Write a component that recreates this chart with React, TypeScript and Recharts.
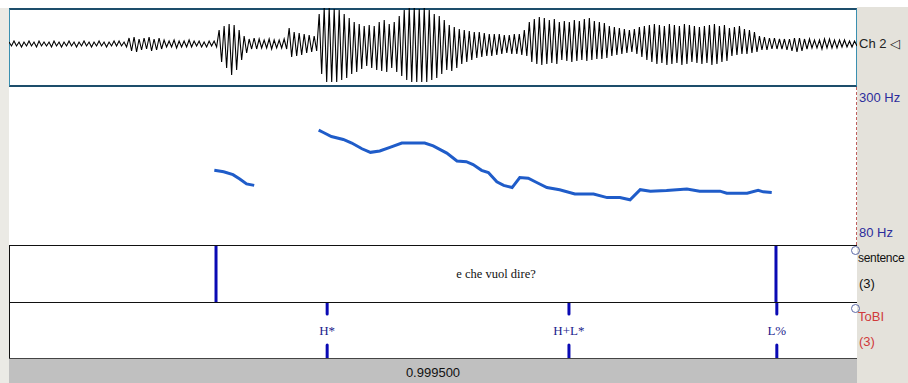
import React from 'react';
import {
  LineChart,
  Line,
  XAxis,
  YAxis,
  ComposedChart,
  ReferenceArea,
  Scatter,
} from 'recharts';

// time span of the window (s)
const DURATION = 0.9995;

// waveform envelope, one bucket per ~5px column: peak above / below the zero line
const waveHi = [
  2, 3, 2, 2, 3, 2, 3, 2, 2, 3, 2, 2, 3, 2, 2, 3, 2, 2, 3, 2, 2, 3, 3, 2,
  6, 7, 5, 6, 7, 5, 6,
  4, 3, 4, 3, 3, 4, 3, 3, 2, 3, 3,
  14, 18, 20, 19, 14, 8,
  5, 6, 5, 4, 5, 4, 4, 5,
  16, 12, 11, 10, 9, 8,
  30, 36, 36, 35, 34, 30, 26,
  22, 20, 18, 19, 18, 22, 24, 20, 22, 28,
  34, 36, 36, 35, 36, 34, 30, 28, 24,
  19, 17, 15, 14, 13, 12, 12, 11, 10, 10, 10,
  9, 9, 10, 10, 14,
  22, 25, 27, 26, 24, 25,
  22, 23, 22, 24, 23, 25, 26, 23, 22, 21,
  18, 17, 16, 15, 14, 15, 17,
  18, 19, 20, 19, 18, 20, 19, 18, 20, 19, 18,
  17, 18, 19, 20, 18, 19,
  16, 17, 18, 15, 14, 12,
  8, 7, 6, 6, 5, 5, 5, 6, 6, 5, 5, 4, 4, 5, 5, 4, 4, 4, 3, 3,
];
const waveLo = [
  2, 2, 3, 2, 2, 3, 2, 2, 3, 2, 3, 2, 2, 3, 2, 2, 3, 2, 2, 3, 2, 2, 2, 3,
  7, 8, 6, 5, 7, 6, 5,
  3, 3, 4, 3, 3, 3, 2, 3, 3, 2, 3,
  18, 24, 31, 26, 16, 9,
  5, 5, 4, 4, 5, 4, 4, 5,
  13, 12, 11, 9, 8, 7,
  30, 38, 38, 38, 36, 34, 30,
  28, 25, 22, 24, 26, 27, 28, 24, 28, 32,
  36, 38, 38, 38, 38, 36, 34, 30, 26,
  27, 24, 20, 18, 16, 14, 13, 12, 12, 11, 10,
  9, 10, 10, 11, 12,
  18, 20, 21, 20, 19, 20,
  16, 17, 18, 17, 16, 17, 16, 15, 15, 14,
  12, 11, 10, 9, 8, 10, 13,
  16, 18, 20, 19, 21, 20, 19, 21, 20, 18, 19,
  20, 19, 21, 20, 18, 17,
  12, 11, 10, 10, 9, 8,
  6, 6, 5, 5, 5, 6, 7, 8, 7, 5, 4, 4, 5, 4, 4, 4, 3, 3, 3, 2,
];

// pitch track (Hz), two voiced stretches
const pitchTimes1 = [0.242, 0.253, 0.264, 0.272, 0.28, 0.289];
const pitchHz1 = [184, 182, 178, 172, 165, 163];
const pitchTimes2 = [
  0.365, 0.37, 0.38, 0.394, 0.404, 0.416, 0.426, 0.437, 0.449, 0.463,
  0.477, 0.49, 0.5, 0.516, 0.528, 0.539, 0.547, 0.557, 0.565, 0.575,
  0.583, 0.593, 0.602, 0.612, 0.622, 0.634, 0.649, 0.667, 0.689, 0.705,
  0.72, 0.732, 0.744, 0.756, 0.775, 0.799, 0.814, 0.838, 0.846, 0.87,
  0.883, 0.889, 0.899,
];
const pitchHz2 = [
  240, 237, 231, 227, 222, 214, 209, 211, 216, 222,
  222, 222, 218, 208, 197, 196, 192, 184, 181, 168,
  163, 160, 174, 173, 167, 160, 157, 151, 151, 146,
  146, 143, 157, 155, 156, 158, 155, 155, 152, 152,
  156, 154, 153,
];

// tiers
const sentenceBounds = [0.244, 0.904];
const sentenceText = 'e che vuol dire?';
const tobiTimes = [0.375, 0.66, 0.905];
const tobiLabels = ['H*', 'H+L*', 'L%'];

const waveData = waveHi.flatMap((h, i) => [
  { k: 2 * i, v: h },
  { k: 2 * i + 1, v: -waveLo[i] },
]);
const seg1 = pitchTimes1.map((t, i) => ({ t, hz: pitchHz1[i] }));
const seg2 = pitchTimes2.map((t, i) => ({ t, hz: pitchHz2[i] }));
const boundData = sentenceBounds.map((t) => ({ t, y: 0.5 }));
const tobiData = tobiTimes.map((t, i) => ({ t, y: 0.5, label: tobiLabels[i] }));

const PLOT_W = 848;
const MARK = '#0a0ab4';
const SANS = '"Liberation Sans", Arial, sans-serif';
const SERIF = '"Liberation Serif", "Times New Roman", serif';

const Boundary = (props: any) => {
  const { cx } = props;
  return <line x1={cx} x2={cx} y1={0} y2={57} stroke={MARK} strokeWidth={3} />;
};

const TobiMark = (props: any) => {
  const { cx, cy, payload } = props;
  return (
    <g>
      <line x1={cx} x2={cx} y1={cy - 27} y2={cy - 16} stroke={MARK} strokeWidth={3} strokeLinecap="round" />
      <text x={cx} y={cy + 5} textAnchor="middle" fontFamily={SERIF} fontSize={13} fill="#1c1c8c">
        {payload.label}
      </text>
      <line x1={cx} x2={cx} y1={cy + 15} y2={cy + 28} stroke={MARK} strokeWidth={3} strokeLinecap="round" />
    </g>
  );
};

const abs = (left: number, top: number, width: number, height: number): React.CSSProperties => ({
  position: 'absolute',
  left,
  top,
  width,
  height,
});

const App = () => {
  return (
    <div style={{ ...abs(0, 0, 908, 383), background: '#fff', overflow: 'hidden', fontFamily: SANS }}>
      {/* frame backgrounds */}
      <div style={{ ...abs(0, 8, 9, 375), background: '#ebeae5' }} />
      <div style={{ ...abs(857, 7, 51, 376), background: '#e4e2db' }} />

      {/* waveform */}
      <div style={{ ...abs(9, 8, PLOT_W, 79), boxSizing: 'border-box', borderTop: '2px solid #1d4d6b', borderBottom: '2px solid #1d4d6b', borderLeft: '1px solid #3a8fb0', borderRight: '1px solid #3a8fb0' }} />
      <div style={abs(9, 8, PLOT_W, 79)}>
        <LineChart width={PLOT_W} height={79} data={waveData} margin={{ top: 0, right: 0, bottom: 0, left: 0 }}>
          <XAxis dataKey="k" type="number" domain={[0, 339]} hide />
          <YAxis type="number" domain={[-43, 36]} hide allowDataOverflow />
          <Line dataKey="v" stroke="#000" strokeWidth={1.1} dot={false} isAnimationActive={false} />
        </LineChart>
      </div>

      {/* pitch */}
      <div style={abs(9, 87, PLOT_W, 158)}>
        <LineChart width={PLOT_W} height={158} margin={{ top: 0, right: 0, bottom: 0, left: 0 }}>
          <XAxis dataKey="t" type="number" domain={[0, DURATION]} hide />
          <YAxis type="number" domain={[80, 300]} hide />
          <Line data={seg1} dataKey="hz" stroke="#1f5cc9" strokeWidth={3} dot={false} isAnimationActive={false} />
          <Line data={seg2} dataKey="hz" stroke="#1f5cc9" strokeWidth={3} dot={false} isAnimationActive={false} />
        </LineChart>
      </div>
      <div style={{ ...abs(856, 87, 0, 158), borderLeft: '1px dashed #c06060' }} />

      {/* sentence tier */}
      <div style={abs(9, 245, PLOT_W, 57)}>
        <ComposedChart width={PLOT_W} height={57} data={boundData} margin={{ top: 0, right: 0, bottom: 0, left: 0 }}>
          <XAxis dataKey="t" type="number" domain={[0, DURATION]} hide />
          <YAxis dataKey="y" type="number" domain={[0, 1]} hide />
          <ReferenceArea
            x1={sentenceBounds[0]}
            x2={sentenceBounds[1]}
            y1={0}
            y2={1}
            fill="none"
            stroke="none"
            label={{ value: sentenceText, position: 'center', fontFamily: SERIF, fontSize: 12.5, fill: '#111' }}
          />
          <Scatter data={boundData} dataKey="y" shape={<Boundary />} isAnimationActive={false} />
        </ComposedChart>
      </div>

      {/* ToBI tier */}
      <div style={abs(9, 302, PLOT_W, 56)}>
        <ComposedChart width={PLOT_W} height={56} data={tobiData} margin={{ top: 0, right: 0, bottom: 0, left: 0 }}>
          <XAxis dataKey="t" type="number" domain={[0, DURATION]} hide />
          <YAxis dataKey="y" type="number" domain={[0, 1]} hide />
          <Scatter data={tobiData} dataKey="y" shape={<TobiMark />} isAnimationActive={false} />
        </ComposedChart>
      </div>

      {/* tier rules */}
      <div style={{ ...abs(9, 245, PLOT_W, 0), borderTop: '1px solid #111' }} />
      <div style={{ ...abs(9, 302, PLOT_W, 0), borderTop: '1px solid #111' }} />
      <div style={{ ...abs(9, 245, 0, 113), borderLeft: '1px solid #111' }} />

      {/* time bar */}
      <div style={{ ...abs(9, 358, PLOT_W, 25), background: '#c0c0c0', borderTop: '1px solid #444', boxSizing: 'border-box', textAlign: 'center', fontSize: 13, lineHeight: '27px', color: '#111' }}>
        0.999500
      </div>

      {/* right labels */}
      <div style={{ position: 'absolute', left: 859, top: 36, fontSize: 13, color: '#222', whiteSpace: 'nowrap' }}>Ch 2 ◁</div>
      <div style={{ position: 'absolute', left: 859, top: 90, fontSize: 13, color: '#2c2c9c', whiteSpace: 'nowrap' }}>300 Hz</div>
      <div style={{ position: 'absolute', left: 859, top: 225, fontSize: 13, color: '#2c2c9c', whiteSpace: 'nowrap' }}>80 Hz</div>
      <div style={{ ...abs(851, 246, 9, 9), borderRadius: '50%', border: '1px solid #5d6aa8', boxSizing: 'border-box' }} />
      <div style={{ position: 'absolute', left: 858, top: 251, fontSize: 12, color: '#111', whiteSpace: 'nowrap', letterSpacing: -0.3 }}>sentence</div>
      <div style={{ position: 'absolute', left: 859, top: 276, fontSize: 13, color: '#111', whiteSpace: 'nowrap' }}>(3)</div>
      <div style={{ ...abs(851, 304, 9, 9), borderRadius: '50%', border: '1px solid #5d6aa8', boxSizing: 'border-box' }} />
      <div style={{ position: 'absolute', left: 858, top: 309, fontSize: 13, color: '#d03a3a', whiteSpace: 'nowrap' }}>ToBI</div>
      <div style={{ position: 'absolute', left: 859, top: 334, fontSize: 13, color: '#d03a3a', whiteSpace: 'nowrap' }}>(3)</div>
    </div>
  );
};

export default App;
